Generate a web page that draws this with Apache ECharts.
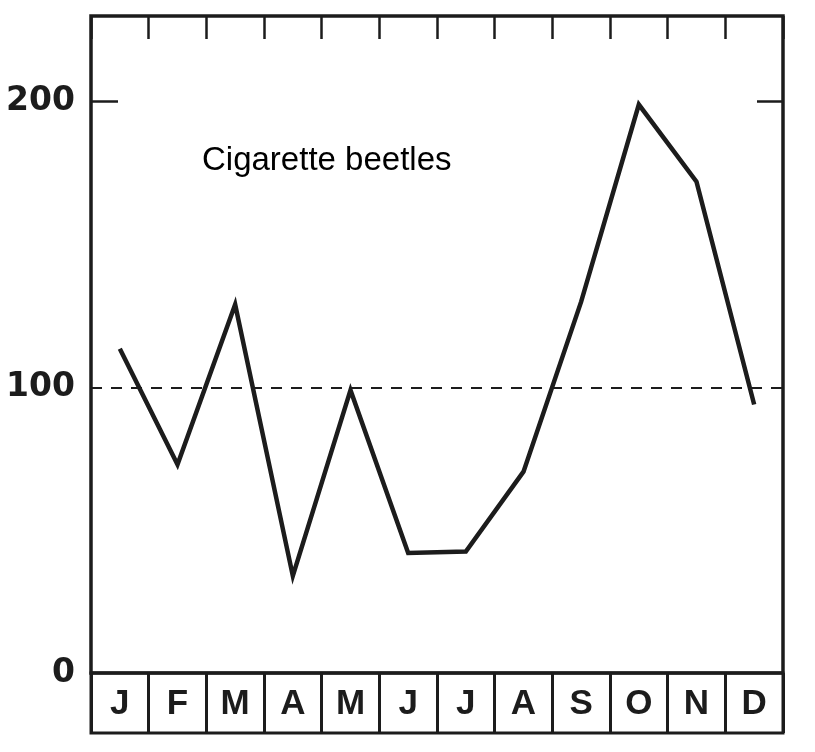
<!DOCTYPE html>
<html>
<head>
<meta charset="utf-8">
<script src="https://cdn.jsdelivr.net/npm/echarts@6/dist/echarts.min.js"></script>
<style>
html,body{margin:0;padding:0;background:#fff;}
#chart{width:815px;height:752px;}
</style>
</head>
<body>
<div id="chart"></div>
<script>
const months = ['J','F','M','A','M','J','J','A','S','O','N','D'];
const beetles = [113.5, 73, 129, 34, 99, 42, 42.5, 70.5, 130, 199, 172, 94];
const yTickLabels = [0, 100, 200];
const referenceLevel = 100;
const titleText = 'Cigarette beetles';

const ink = '#1c1c1c';
const chart = echarts.init(document.getElementById('chart'), null, {renderer: 'canvas'});
chart.setOption({
  backgroundColor: '#ffffff',
  animation: false,
  grid: [
    {left: 91, right: 32, top: 16, bottom: 79, show: true, borderColor: ink, borderWidth: 3.5, backgroundColor: 'transparent'},
    {left: 91, right: 32, top: 673, bottom: 19, show: true, borderColor: ink, borderWidth: 3, backgroundColor: 'transparent'}
  ],
  xAxis: [
    {
      gridIndex: 0, type: 'category', data: months, position: 'bottom',
      axisLine: {show: false, onZero: false}, axisTick: {show: false},
      axisLabel: {
        margin: 31, verticalAlign: 'middle', color: ink,
        fontFamily: "'Liberation Sans', sans-serif",
        fontWeight: 'bold', fontSize: 35
      }
    },
    {
      gridIndex: 0, type: 'category', data: months, position: 'top',
      axisLine: {show: false, onZero: false},
      axisTick: {show: true, inside: true, length: 23, interval: 0, lineStyle: {color: ink, width: 2.5}},
      axisLabel: {show: false, interval: 0}
    },
    {
      gridIndex: 1, type: 'category', data: months, position: 'bottom',
      axisLine: {show: false, onZero: false}, axisTick: {show: false}, axisLabel: {show: false},
      splitLine: {show: true, interval: 0, lineStyle: {color: ink, width: 3}}
    }
  ],
  yAxis: [
    {
      gridIndex: 0, type: 'value', min: 0, max: 230, interval: 100, position: 'left',
      axisLine: {show: false, onZero: false},
      axisTick: {show: true, inside: true, length: 27, customValues: [200], lineStyle: {color: ink, width: 2.5}},
      axisLabel: {
        customValues: yTickLabels, margin: 16, color: ink, padding: [6, 0, 0, 0],
        fontFamily: "'DejaVu Sans', sans-serif", fontWeight: 'bold', fontSize: 33
      },
      splitLine: {show: false}
    },
    {
      gridIndex: 0, type: 'value', min: 0, max: 230, interval: 100, position: 'right',
      axisLine: {show: false, onZero: false},
      axisTick: {show: true, inside: true, length: 26, customValues: [200], lineStyle: {color: ink, width: 2.5}},
      axisLabel: {show: false},
      splitLine: {show: false}
    },
    {gridIndex: 1, type: 'value', show: false}
  ],
  graphic: [
    {
      type: 'text', left: 202, top: 144,
      style: {text: titleText, fill: '#000', font: "33px 'Liberation Sans', Arial, sans-serif"}
    }
  ],
  series: [
    {
      type: 'line', xAxisIndex: 0, yAxisIndex: 0, data: beetles,
      symbol: 'none', smooth: false,
      lineStyle: {color: ink, width: 4.5, cap: 'butt', join: 'miter'},
      markLine: {
        silent: true, symbol: 'none', label: {show: false},
        lineStyle: {color: ink, width: 2.2, type: [11, 9]},
        data: [{yAxis: referenceLevel}]
      }
    },
    {
      type: 'line', xAxisIndex: 1, yAxisIndex: 1, data: beetles,
      symbol: 'none', silent: true,
      lineStyle: {opacity: 0, width: 0}
    },
    {
      type: 'line', xAxisIndex: 2, yAxisIndex: 2, data: [],
      symbol: 'none', silent: true
    }
  ]
});
</script>
</body>
</html>
